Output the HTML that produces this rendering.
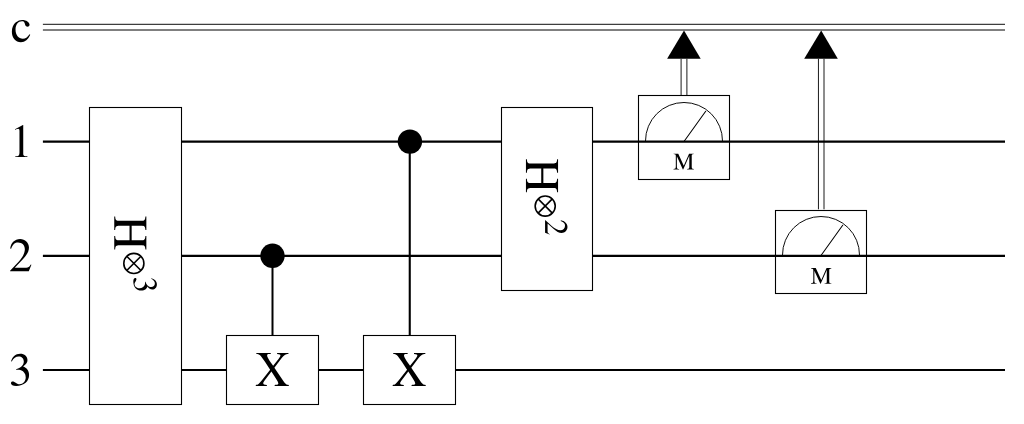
<!DOCTYPE html>
<html><head><meta charset="utf-8">
<style>
html,body{margin:0;padding:0;background:#fff;width:1024px;height:424px;overflow:hidden}
svg{display:block;will-change:transform}
</style></head>
<body>
<svg width="1024" height="424" viewBox="0 0 1024 424">
<rect x="0" y="0" width="1024" height="424" fill="#fff"/>
<line x1="42.9" y1="24.3" x2="1005" y2="24.3" stroke="#000" stroke-width="0.95"/>
<line x1="42.9" y1="30" x2="1005" y2="30" stroke="#000" stroke-width="1"/>
<line x1="42.9" y1="141.6" x2="1005" y2="141.6" stroke="#000" stroke-width="2.1"/>
<line x1="42.9" y1="255.85" x2="1005" y2="255.85" stroke="#000" stroke-width="2.1"/>
<line x1="42.9" y1="370" x2="1005" y2="370" stroke="#000" stroke-width="2"/>
<rect x="89.5" y="107.5" width="92" height="297" fill="#fff" stroke="#000" stroke-width="1.1"/>
<line x1="272.5" y1="256" x2="272.5" y2="335.5" stroke="#000" stroke-width="2"/>
<circle cx="272.5" cy="255.8" r="12.2" fill="#000"/>
<rect x="226.5" y="335.5" width="92" height="69" fill="#fff" stroke="#000" stroke-width="1.1"/>
<line x1="409.75" y1="141.5" x2="409.75" y2="335.5" stroke="#000" stroke-width="2.1"/>
<circle cx="409.9" cy="141.6" r="12.2" fill="#000"/>
<rect x="363.5" y="335.5" width="92" height="69" fill="#fff" stroke="#000" stroke-width="1.1"/>
<rect x="501.5" y="107.5" width="91" height="183" fill="#fff" stroke="#000" stroke-width="1.1"/>
<rect x="638.5" y="95.5" width="91" height="84" fill="none" stroke="#000" stroke-width="1.1"/>
<path d="M645.5 141.0 A38.5 38.5 0 0 1 722.5 141.0" fill="none" stroke="#000" stroke-width="0.95"/>
<line x1="684" y1="141.5" x2="705.7" y2="111.2" stroke="#000" stroke-width="1.05" stroke-linecap="round"/>
<line x1="681.1" y1="58.8" x2="681.1" y2="95.5" stroke="#000" stroke-width="0.9"/>
<line x1="686.9" y1="58.8" x2="686.9" y2="95.5" stroke="#000" stroke-width="0.9"/>
<path d="M667.1 58.8 L684 30.6 L700.7 58.8 Z" fill="#000"/>
<rect x="775.5" y="210.5" width="91" height="83" fill="none" stroke="#000" stroke-width="1.1"/>
<path d="M782.5 255.0 A38.5 38.5 0 0 1 859.5 255.0" fill="none" stroke="#000" stroke-width="0.95"/>
<line x1="821" y1="255.5" x2="842.7" y2="225.2" stroke="#000" stroke-width="1.05" stroke-linecap="round"/>
<line x1="818.45" y1="58.8" x2="818.45" y2="209.3" stroke="#000" stroke-width="0.9"/>
<line x1="824" y1="58.8" x2="824" y2="209.3" stroke="#000" stroke-width="0.9"/>
<path d="M804.2 58.8 L821.2 30.6 L837.8 58.8 Z" fill="#000"/>
<g fill="#000">
<path transform="translate(10.683,41.726) scale(0.04745,-0.04745)" d="M412 147 398 156C350 86 314 62 257 62C165 62 102 142 102 257C102 361 157 431 238 431C274 431 287 420 297 383L303 361C311 332 329 315 351 315C377 315 398 334 398 357C398 413 328 460 244 460C197 460 149 442 109 409C55 364 25 295 25 212C25 83 104 -10 215 -10C258 -10 296 4 330 32C360 56 380 85 412 147Z"/>
<path transform="translate(10.169,157.000) scale(0.04369,-0.04749)" d="M394 0V15C315 16 299 26 299 74V674L291 676L111 585V571C123 576 134 580 138 582C156 589 173 593 183 593C204 593 213 578 213 546V93C213 60 205 37 189 28C174 19 160 16 118 15V0Z"/>
<path transform="translate(8.648,271.300) scale(0.04793,-0.04793)" d="M475 137 462 142C425 85 412 76 367 76H128L296 252C385 345 424 421 424 499C424 599 343 676 239 676C184 676 132 654 95 614C63 580 48 548 31 477L52 472C92 570 128 602 197 602C281 602 338 545 338 461C338 383 292 290 208 201L30 12V0H420Z"/>
<path transform="translate(8.917,385.247) scale(0.04667,-0.04667)" d="M432 219C432 270 416 317 387 348C367 370 348 382 304 401C373 448 398 485 398 539C398 620 334 676 242 676C192 676 148 659 112 627C82 600 67 574 45 514L60 510C101 583 146 616 209 616C274 616 319 572 319 509C319 473 304 437 279 412C249 382 221 367 153 343V330C212 330 235 328 259 319C321 297 360 240 360 171C360 87 303 22 229 22C202 22 182 29 145 53C115 71 98 78 81 78C58 78 43 64 43 43C43 8 86 -14 156 -14C233 -14 312 12 359 53C406 94 432 152 432 219Z"/>
<path transform="translate(255.321,385.900) scale(0.04756,-0.04970)" d="M704 0V19C651 25 636 35 593 93L401 367L547 549C612 627 632 639 696 643V662H458V643C512 641 528 634 528 611C528 596 517 578 488 542L375 404L333 463C272 548 248 591 248 613C248 633 263 641 296 642L324 643V662H22V643C87 640 105 625 203 486L312 326L155 133C66 27 61 23 10 19V0H243V19C185 23 167 31 167 54C167 69 182 94 219 140L338 288L433 148C466 99 484 65 484 50C484 32 468 22 434 21C430 21 419 20 407 19V0Z"/>
<path transform="translate(392.221,385.900) scale(0.04756,-0.04970)" d="M704 0V19C651 25 636 35 593 93L401 367L547 549C612 627 632 639 696 643V662H458V643C512 641 528 634 528 611C528 596 517 578 488 542L375 404L333 463C272 548 248 591 248 613C248 633 263 641 296 642L324 643V662H22V643C87 640 105 625 203 486L312 326L155 133C66 27 61 23 10 19V0H243V19C185 23 167 31 167 54C167 69 182 94 219 140L338 288L433 148C466 99 484 65 484 50C484 32 468 22 434 21C430 21 419 20 407 19V0Z"/>
<path transform="translate(114.247,215.541) rotate(90) scale(0.04850,-0.04850)" d="M702 0V19C627 25 614 38 614 109V553C614 625 625 636 702 643V662H424V643C501 636 512 625 512 553V359H209V553C209 625 220 636 297 643V662H19V643C96 636 107 625 107 553V120C107 36 97 24 19 19V0H297V19C222 25 209 38 209 109V315H512V120C512 36 502 24 424 19V0Z"/>
<path transform="translate(133.779,276.714) rotate(90) scale(0.03215,-0.03420)" d="M432 219C432 270 416 317 387 348C367 370 348 382 304 401C373 448 398 485 398 539C398 620 334 676 242 676C192 676 148 659 112 627C82 600 67 574 45 514L60 510C101 583 146 616 209 616C274 616 319 572 319 509C319 473 304 437 279 412C249 382 221 367 153 343V330C212 330 235 328 259 319C321 297 360 240 360 171C360 87 303 22 229 22C202 22 182 29 145 53C115 71 98 78 81 78C58 78 43 64 43 43C43 8 86 -14 156 -14C233 -14 312 12 359 53C406 94 432 152 432 219Z"/>
<path transform="translate(525.947,158.266) rotate(90) scale(0.04850,-0.04850)" d="M702 0V19C627 25 614 38 614 109V553C614 625 625 636 702 643V662H424V643C501 636 512 625 512 553V359H209V553C209 625 220 636 297 643V662H19V643C96 636 107 625 107 553V120C107 36 97 24 19 19V0H297V19C222 25 209 38 209 109V315H512V120C512 36 502 24 424 19V0Z"/>
<path transform="translate(545.070,219.334) rotate(90) scale(0.03214,-0.03314)" d="M475 137 462 142C425 85 412 76 367 76H128L296 252C385 345 424 421 424 499C424 599 343 676 239 676C184 676 132 654 95 614C63 580 48 548 31 477L52 472C92 570 128 602 197 602C281 602 338 545 338 461C338 383 292 290 208 201L30 12V0H420Z"/>
<path transform="translate(673.208,169.470) scale(0.02387,-0.02387)" d="M863 0V19C790 24 776 38 776 109V553C776 624 789 637 863 643V662H664L443 157L212 662H14V643C96 638 109 626 109 553V147C109 44 95 25 12 19V0H247V19C170 23 153 46 153 147V550L404 0H418L674 573V120C674 37 662 24 583 19V0Z"/>
<path transform="translate(810.708,283.760) scale(0.02387,-0.02387)" d="M863 0V19C790 24 776 38 776 109V553C776 624 789 637 863 643V662H664L443 157L212 662H14V643C96 638 109 626 109 553V147C109 44 95 25 12 19V0H247V19C170 23 153 46 153 147V550L404 0H418L674 573V120C674 37 662 24 583 19V0Z"/>
</g>
<circle cx="133.85" cy="263.4" r="10.05" fill="none" stroke="#000" stroke-width="1.6"/>
<path d="M126.74 256.29 L140.96 270.51 M140.96 256.29 L126.74 270.51" stroke="#000" stroke-width="1.6"/>
<circle cx="545.2" cy="206.05" r="10.05" fill="none" stroke="#000" stroke-width="1.6"/>
<path d="M538.09 198.94 L552.31 213.16 M552.31 198.94 L538.09 213.16" stroke="#000" stroke-width="1.6"/>
</svg>
</body></html>
